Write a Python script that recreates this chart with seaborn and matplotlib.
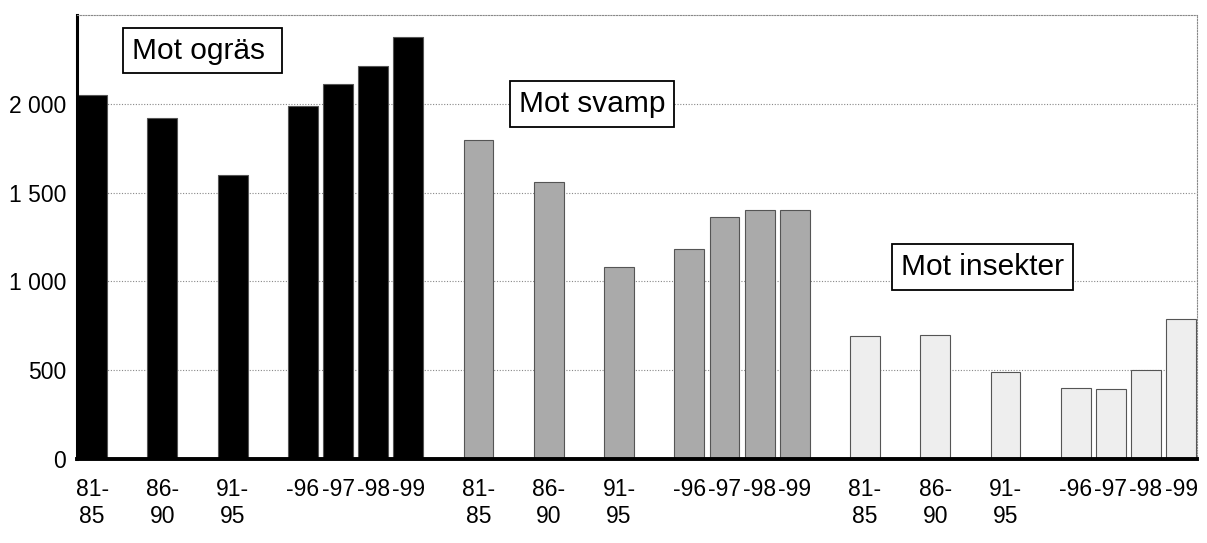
import matplotlib
matplotlib.use("Agg")
import matplotlib.pyplot as plt
import seaborn as sns
import pandas as pd
import numpy as np

# ---- data ----
periods = ["81-\n85", "86-\n90", "91-\n95", "-96", "-97", "-98", "-99"]
groups = ["Mot ogräs", "Mot svamp", "Mot insekter"]
ogras = [2050, 1920, 1600, 1990, 2110, 2210, 2375]
svamp = [1795, 1560, 1080, 1180, 1360, 1400, 1400]
insekter = [690, 700, 490, 400, 395, 500, 790]
colors = ["#000000", "#aaaaaa", "#eeeeee"]

# ---- layout: 5-year periods take two slots, single years one slot ----
steps = [2, 2, 2, 1, 1, 1]          # gap to next period within a group
group_gap = 2                       # gap between groups
rows = []
pos = 0
for g, vals in zip(groups, [ogras, svamp, insekter]):
    for i, (p, v) in enumerate(zip(periods, vals)):
        rows.append({"pos": pos, "value": v, "group": g, "period": p})
        if i < len(steps):
            pos += steps[i]
    pos += group_gap
df = pd.DataFrame(rows)

sns.set_style("white")
plt.rcParams["font.family"] = ["Liberation Sans", "DejaVu Sans"]
plt.rcParams["text.color"] = "black"
plt.rcParams["xtick.color"] = "black"
plt.rcParams["ytick.color"] = "black"

fig = plt.figure(figsize=(12.07, 5.43), dpi=100)
ax = fig.add_axes([0.0638, 0.1547, 0.9279, 0.8177])

sns.barplot(data=df, x="pos", y="value", hue="group", hue_order=groups,
            palette=colors, native_scale=True, dodge=False, width=0.85,
            edgecolor="#555555", linewidth=0.8, legend=False, ax=ax)

ax.set_xlim(-0.43, 31.45)
ax.set_ylim(0, 2500)
ax.set_xlabel("")
ax.set_ylabel("")

ax.set_xticks(df["pos"])
ax.set_xticklabels(df["period"], fontsize=16.5, linespacing=1.2, color="black")
yt = [0, 500, 1000, 1500, 2000]
ax.set_yticks(yt)
ax.set_yticklabels([f"{v:,}".replace(",", " ") for v in yt], fontsize=16.5,
                   color="black")
ax.tick_params(axis="both", length=0)
ax.tick_params(axis="y", pad=8)
ax.tick_params(axis="x", pad=14)

ax.yaxis.grid(True, linestyle=(0, (1, 1.5)), color="#888888", linewidth=0.8)
ax.set_axisbelow(True)

for side in ["top", "right"]:
    ax.spines[side].set_visible(True)
    ax.spines[side].set_linestyle((0, (1, 1.5)))
    ax.spines[side].set_color("#888888")
    ax.spines[side].set_linewidth(0.8)
ax.spines["left"].set_color("black")
ax.spines["left"].set_linewidth(2.2)
ax.spines["bottom"].set_color("black")
ax.spines["bottom"].set_linewidth(2.8)

box = dict(boxstyle="square,pad=0.3", fc="white", ec="black", lw=1.3)
ax.text(1.14, 2300, "Mot ogräs ", fontsize=21.5, ha="left", va="center",
        color="black", bbox=box)
ax.text(12.14, 2000, "Mot svamp", fontsize=21.5, ha="left", va="center",
        color="black", bbox=box)
ax.text(23.02, 1081, "Mot insekter", fontsize=21.5, ha="left", va="center",
        color="black", bbox=box)

fig.savefig("out.png", dpi=100)
